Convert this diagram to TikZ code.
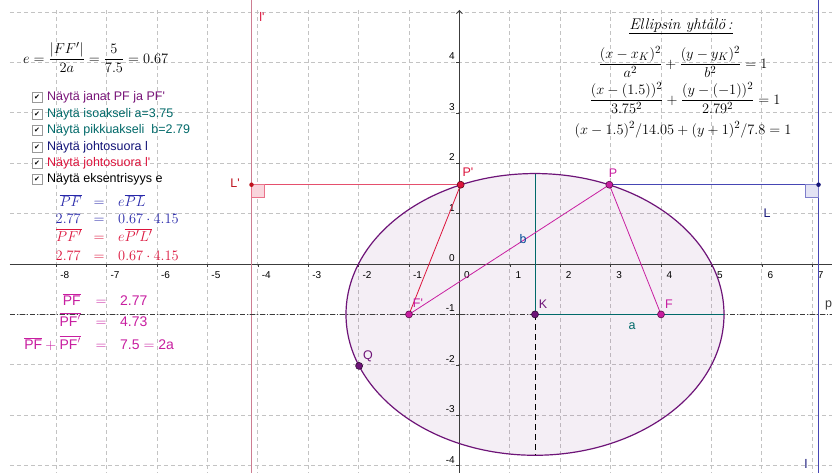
\documentclass[tikz,border=0pt]{standalone}
\usepackage[no-math]{fontspec}
\newfontfamily\arial{Liberation Sans}
\newfontfamily\djv{DejaVu Sans}
\usetikzlibrary{arrows.meta}
\definecolor{gridc}{RGB}{195,195,195}
\definecolor{axc}{RGB}{60,60,60}
\definecolor{ellc}{RGB}{110,20,120}
\definecolor{magc}{RGB}{200,30,160}
\definecolor{crim}{RGB}{220,20,60}
\definecolor{lprime}{RGB}{205,125,145}
\definecolor{blc}{RGB}{70,70,180}
\definecolor{dblue}{RGB}{20,20,120}
\definecolor{tealc}{RGB}{0,105,105}
\definecolor{purptxt}{RGB}{120,20,120}
\definecolor{eqblue}{RGB}{40,40,170}
\definecolor{ldred}{RGB}{190,20,30}
\tikzset{
 gridline/.style={gridc, line width=0.9pt, dash pattern=on 4pt off 3pt},
 axisline/.style={axc, line width=0.9pt},
 ticklab/.style={font=\arial\fontsize{10}{12}\selectfont, text=black, inner sep=0pt},
 ptmark/.style={circle, draw=#1!45!black, fill=#1, inner sep=0pt, minimum size=7pt, line width=0.6pt},
 smallpt/.style={circle, fill=#1, inner sep=0pt, minimum size=4.5pt},
 ptlab/.style={font=\arial\fontsize{12.5}{14}\selectfont, inner sep=0pt},
 cbox/.style={draw=gray!80, fill=white, minimum size=10pt, inner sep=0pt, line width=0.6pt},
 cbtext/.style={font=\arial\fontsize{12.5}{14}\selectfont, anchor=west, inner sep=0pt},
 eqtext/.style={font=\fontsize{15}{18}\selectfont, inner sep=0pt},
 reqtext/.style={font=\fontsize{15.5}{18.5}\selectfont, inner sep=0pt},
 sftext/.style={font=\arial\fontsize{14}{16}\selectfont, inner sep=0pt, text=magc},
}
\begin{document}
\begin{tikzpicture}[x=1pt,y=-1pt]
\useasboundingbox (0,0) rectangle (832,472);
\fill[white] (0,0) rectangle (832,472);

\begin{scope}[shift={(459.4pt,-264pt)}, x=50.4pt, y=50.4pt]
  % points
  \coordinate (K) at (1.5,-1);
  \coordinate (F) at (4,-1);
  \coordinate (F') at (-1,-1);
  \coordinate (P) at (2.975,1.573);
  \coordinate (P') at (0.025,1.573);
  \coordinate (L) at (7.125,1.573);
  \coordinate (L') at (-4.125,1.573);
  \coordinate (Q) at (-1.99,-2.022);
  \coordinate (Btop) at (1.5,1.795);
  \coordinate (Bbot) at (1.5,-3.795);
  \coordinate (Aright) at (5.25,-1);
  \coordinate (pL) at (-8.92,-1);
  \coordinate (pR) at (7.5,-1);
  % grid
  \begin{scope}
    \clip (-8.92,-4.2) rectangle (7.5,5.04);
    \foreach \i in {-8,...,7} \draw[gridline] (\i,-4.2) -- (\i,5.04);
    \foreach \j in {-4,...,5} \draw[gridline] (-8.92,\j) -- (7.5,\j);
  \end{scope}
  % ellipse fill
  \fill[ellc, opacity=0.07] (K) ellipse [x radius=3.75, y radius=2.795];
  % axes
  \draw[axisline] (-8.92,0) -- (7.5,0);
  \draw[axisline, -{Straight Barb[length=3pt,width=6pt]}] (0,-4.2) -- (0,5.04);
  \foreach \i in {-8,-7,-6,-5,-4,-3,-2,-1,1,2,3,4,5,6,7} {
    \draw[axisline, line width=0.6pt] (\i,0) -- ++(0,-3pt);
    \node[ticklab] at ([xshift=8.5pt,yshift=-11pt]\i,0) {\i};
  }
  \node[ticklab] at ([xshift=7.6pt,yshift=-11pt]0,0) {0};
  \foreach \j in {-4,-3,-2,-1,1,2,3,4} {
    \draw[axisline, line width=0.6pt] (0,\j) -- ++(-3pt,0);
    \node[ticklab, anchor=east] at ([xshift=-4.5pt,yshift=6pt]0,\j) {\j};
  }
  \node[ticklab, anchor=east] at ([xshift=-4.5pt,yshift=6pt]0,0) {0};
  % directrices
  \draw[lprime, line width=1.6pt] (-4.125,-4.2) -- (-4.125,5.3);
  \draw[blc, line width=1.2pt] (7.125,-4.2) -- (7.125,5.3);
  % line p
  \draw[axc, line width=0.6pt, dash pattern=on 5pt off 2pt on 1pt off 2pt] (pL) -- (pR);
  % ellipse outline
  \draw[ellc, line width=1.2pt] (K) ellipse [x radius=3.75, y radius=2.795];
  % axes of ellipse
  \draw[tealc, line width=1pt] (K) -- (Btop);
  \draw[tealc, line width=1pt] (K) -- (Aright);
  \draw[black, line width=0.7pt, dash pattern=on 6pt off 4pt] (K) -- (Bbot);
  % segments
  \draw[crim, line width=0.8pt] (P') -- (F');
  \draw[magc, line width=0.8pt] (P) -- (F');
  \draw[magc, line width=0.8pt] (P) -- (F);
  \draw[crim!75, line width=1pt] (L') -- (P');
  \draw[blc, line width=1pt] (P) -- (L);
  % right angle marks
  \filldraw[fill=crim!18, draw=crim!60, line width=0.6pt] (L') rectangle ++(13pt,-13pt);
  \filldraw[fill=blc!15, draw=blc!70, line width=0.6pt] (L) rectangle ++(-13pt,-13pt);
  % point marks
  \node[smallpt=ldred] (nL') at (L') {};
  \node[smallpt=dblue] (nL) at (L) {};
  \node[ptmark=crim] (nP') at (P') {};
  \node[ptmark=magc] (nP) at (P) {};
  \node[ptmark=magc] (nF) at (F) {};
  \node[ptmark=magc] (nF') at (F') {};
  \node[ptmark=ellc] (nK) at (K) {};
  \node[ptmark=ellc] (nQ) at (Q) {};
\end{scope}

% point labels
\node[ptlab, text=crim] (tlp) at (262,17) {l'};
\node[ptlab, text=ldred] (tL') at (235,183) {L'};
\node[ptlab, text=crim] (tP') at (468,172) {P'};
\node[ptlab, text=magc] (tP) at (613,173) {P};
\node[ptlab, text=dblue] (tL) at (767,213) {L};
\node[ptlab, text=tealc!70!blue] (tb) at (523,239) {b};
\node[ptlab, text=magc] (tF') at (418,303) {F'};
\node[ptlab, text=ellc] (tK) at (543,304) {K};
\node[ptlab, text=magc] (tF) at (669,304) {F};
\node[ptlab, text=tealc] (ta) at (632,326) {a};
\node[ptlab, text=ellc] (tQ) at (368,356) {Q};
\node[ptlab, text=axc, anchor=west] (tp) at (825,305) {p};
\node[ptlab, text=dblue] (tl) at (806,464) {l};

% eccentricity formula
\node[inner sep=0pt, anchor=base west, font=\fontsize{15}{18}\selectfont] (ecc) at (23,63)
  {$\displaystyle e=\frac{|FF'|}{2a}=\frac{5}{7.5}=0.67$};

% checkboxes
\node[cbox] (cb1) at (37,97) {\djv\fontsize{7}{7}\selectfont ✔};
\node[cbox] (cb2) at (37,114) {\djv\fontsize{7}{7}\selectfont ✔};
\node[cbox] (cb3) at (37,130) {\djv\fontsize{7}{7}\selectfont ✔};
\node[cbox] (cb4) at (37,147) {\djv\fontsize{7}{7}\selectfont ✔};
\node[cbox] (cb5) at (37,163) {\djv\fontsize{7}{7}\selectfont ✔};
\node[cbox] (cb6) at (37,179) {\djv\fontsize{7}{7}\selectfont ✔};
\node[cbtext, text=purptxt] (ct1) at (47,97) {Näytä janat PF ja PF'};
\node[cbtext, text=tealc] (ct2) at (47,114) {Näytä isoakseli a=3.75};
\node[cbtext, text=tealc] (ct3) at (47,130) {Näytä pikkuakseli\ \ b=2.79};
\node[cbtext, text=dblue] (ct4) at (47,147) {Näytä johtosuora l};
\node[cbtext, text=crim] (ct5) at (47,163) {Näytä johtosuora l'};
\node[cbtext, text=black] (ct6) at (47,179) {Näytä eksentrisyys e};

% blue / crimson equations
\node[eqtext, text=eqblue, anchor=base east] (e1l) at (82,206) {$\overline{PF}$};
\node[eqtext, text=eqblue, anchor=base] (e1m) at (99,206) {$=$};
\node[eqtext, text=eqblue, anchor=base west] (e1r) at (118,206) {$e\overline{PL}$};
\node[eqtext, text=eqblue, anchor=base east] (e2l) at (81,223) {$2.77$};
\node[eqtext, text=eqblue, anchor=base] (e2m) at (99,223) {$=$};
\node[eqtext, text=eqblue, anchor=base west] (e2r) at (118,223) {$0.67\cdot4.15$};
\node[eqtext, text=crim, anchor=base east] (e3l) at (82,241) {$\overline{PF'}$};
\node[eqtext, text=crim, anchor=base] (e3m) at (99,241) {$=$};
\node[eqtext, text=crim, anchor=base west] (e3r) at (118,241) {$e\overline{P'L'}$};
\node[eqtext, text=crim, anchor=base east] (e4l) at (81,260) {$2.77$};
\node[eqtext, text=crim, anchor=base] (e4m) at (99,260) {$=$};
\node[eqtext, text=crim, anchor=base west] (e4r) at (118,260) {$0.67\cdot4.15$};

% magenta sums
\node[sftext, anchor=base east] (m1l) at (81,305) {$\overline{\mbox{\arial PF}}$};
\node[sftext, anchor=base] (m1m) at (101,305) {$=$};
\node[sftext, anchor=base west] (m1r) at (120,305) {2.77};
\node[sftext, anchor=base east] (m2l) at (81,326) {$\overline{\mbox{\arial PF}'}$};
\node[sftext, anchor=base] (m2m) at (101,326) {$=$};
\node[sftext, anchor=base west] (m2r) at (120,326) {4.73};
\node[sftext, anchor=base east] (m3l) at (81,349) {$\overline{\mbox{\arial PF}}+\overline{\mbox{\arial PF}'}$};
\node[sftext, anchor=base] (m3m) at (101,349) {$=$};
\node[sftext, anchor=base west] (m3r) at (120,349) {7.5 $=$ 2a};

% ellipse equation
\node[reqtext, anchor=base] (h) at (681,29) {\underline{\textit{Ellipsin yhtälö\,:}}};
\node[reqtext, anchor=base] (q1) at (683,68) {$\displaystyle\frac{(x-x_K)^2}{a^2}+\frac{(y-y_K)^2}{b^2}=1$};
\node[reqtext, anchor=base] (q2) at (685,104) {$\displaystyle\frac{(x-(1.5))^2}{3.75^2}+\frac{(y-(-1))^2}{2.79^2}=1$};
\node[reqtext, anchor=base] (q3) at (683,134) {$(x-1.5)^2/14.05+(y+1)^2/7.8=1$};
\end{tikzpicture}
\end{document}
